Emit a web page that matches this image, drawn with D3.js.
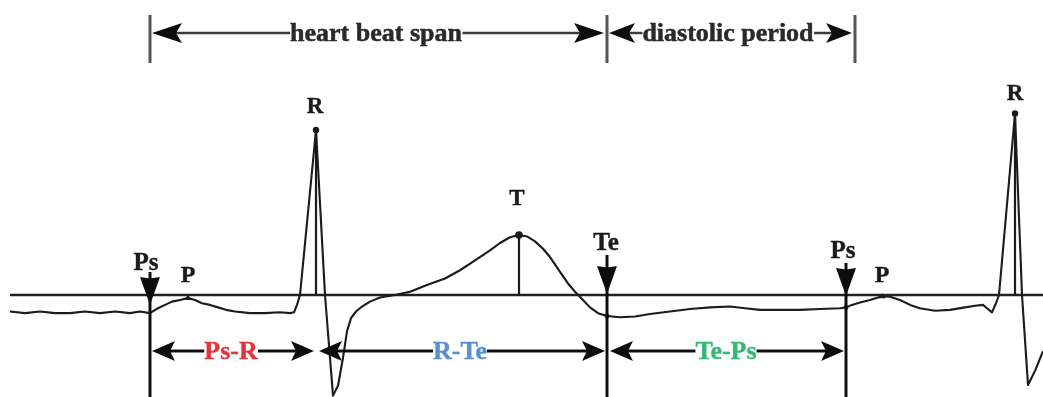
<!DOCTYPE html>
<html>
<head>
<meta charset="utf-8">
<script src="https://cdn.jsdelivr.net/npm/d3@7"></script>
<style>
  html, body { margin: 0; padding: 0; background: #fff; }
  svg { display: block; }
  text { font-family: "Liberation Serif", "Times New Roman", serif; font-weight: bold; }
</style>
</head>
<body>
<svg id="chart" width="1043" height="397"></svg>
<script>
// ---------------- DATA ----------------
// ECG trace: time (ms) and amplitude (mV, baseline = 0, first R peak = 1)
const waveT = [10, 25, 40, 55, 70, 85, 100, 115, 130, 140, 150,
  158, 165, 172, 180, 188, 195, 202, 210, 218, 226, 235, 250, 265, 280, 290, 294,
  297, 300, 316, 325, 333, 338, 343, 347, 351, 356, 362, 370, 380, 395, 410,
  427, 445, 460, 475, 490, 500, 510, 519, 527, 535, 543, 550, 560, 568, 575, 583, 590, 598, 607,
  620, 635, 650, 670, 690, 710, 730, 745, 760, 780, 800, 820, 840, 846,
  852, 860, 870, 882, 890, 900, 910, 920, 935, 950, 965, 975, 983, 987, 992, 996,
  999, 1015, 1022, 1028, 1035, 1043];
const waveV = [-0.10, -0.11, -0.10, -0.11, -0.11, -0.10, -0.11, -0.10, -0.11, -0.10, -0.11,
  -0.08, -0.06, -0.04, -0.03, -0.018, -0.03, -0.05, -0.06, -0.075, -0.09, -0.10, -0.11, -0.11, -0.105, -0.11, -0.105,
  -0.06, 0.0, 1.0, 0.0, -0.61, -0.55, -0.38, -0.22, -0.14, -0.10, -0.07, -0.04, -0.015, 0.0, 0.02,
  0.06, 0.10, 0.15, 0.21, 0.27, 0.315, 0.35, 0.364, 0.355, 0.325, 0.28, 0.23, 0.14, 0.07, 0.02, -0.03, -0.075, -0.11, -0.127,
  -0.135, -0.13, -0.115, -0.10, -0.085, -0.075, -0.07, -0.08, -0.09, -0.09, -0.09, -0.085, -0.08, -0.075,
  -0.06, -0.045, -0.03, -0.008, -0.01, -0.03, -0.06, -0.08, -0.095, -0.09, -0.075, -0.065, -0.06, -0.08, -0.105, -0.05,
  0.0, 1.10, 0.0, -0.545, -0.46, -0.34];

// Fiducial points
const eventNames = ["Ps", "P", "R", "T", "Te", "Ps", "P", "R"];
const eventT     = [150, 188, 316, 519, 607, 846, 882, 1015];

// Intervals shown under the trace
const intervalLabels = ["Ps-R", "R-Te", "Te-Ps"];
const intervalStart  = [150, 316, 607];
const intervalEnd    = [316, 607, 846];

// Spans shown on top
const spanLabels = ["heart beat span", "diastolic period"];
const spanStart  = [150, 607];
const spanEnd    = [607, 855];

// ---------------- DRAWING ----------------
const svg = d3.select("#chart");
const W = 1043, H = 397;

const x = d3.scaleLinear().domain([0, 1043]).range([0, W]);
const y = d3.scaleLinear().domain([0, 1]).range([295, 130]);

const defs = svg.append("defs");
defs.append("filter").attr("id", "soft")
  .append("feGaussianBlur").attr("stdDeviation", 0.6);

const g = svg.append("g").attr("filter", "url(#soft)");

const ink = "#1a1a1a";
const valueAt = t => waveV[waveT.indexOf(t)];

function arrowHead(tipX, tipY, dir, L, Hh, N) {
  return `M${tipX},${tipY} L${tipX - dir * L},${tipY - Hh} L${tipX - dir * (L - N)},${tipY} L${tipX - dir * L},${tipY + Hh} Z`;
}
function downHead(xp, tipY, L, Hw, N) {
  return `M${xp},${tipY} L${xp - Hw},${tipY - L} L${xp},${tipY - L + N} L${xp + Hw},${tipY - L} Z`;
}

// baseline (isoelectric line)
g.append("line")
  .attr("x1", x(10)).attr("x2", x(1043))
  .attr("y1", y(0)).attr("y2", y(0))
  .attr("stroke", "#222").attr("stroke-width", 2.6);

// vertical markers from peaks to baseline (R, T)
eventNames.forEach((n, i) => {
  if (n === "R" || n === "T") {
    g.append("line")
      .attr("x1", x(eventT[i])).attr("x2", x(eventT[i]))
      .attr("y1", y(valueAt(eventT[i]))).attr("y2", y(0))
      .attr("stroke", ink).attr("stroke-width", 2.2);
  }
});

// ECG trace
const pts = waveT.map((t, i) => [t, waveV[i]]);
g.append("path")
  .datum(pts)
  .attr("d", d3.line().x(d => x(d[0])).y(d => y(d[1])).curve(d3.curveLinear))
  .attr("fill", "none").attr("stroke", ink).attr("stroke-width", 2.1)
  .attr("stroke-linejoin", "round");

// dots on fiducial points
eventNames.forEach((n, i) => {
  const t = eventT[i], v = valueAt(t);
  if (n === "R" || n === "T") {
    g.append("circle").attr("cx", x(t)).attr("cy", y(v)).attr("r", n === "T" ? 3.8 : 3.2).attr("fill", ink);
  } else if (n === "P") {
    g.append("path").attr("d", `M${x(t) - 4},${y(v) + 2} L${x(t)},${y(v) - 3} L${x(t) + 4},${y(v) + 2} Z`).attr("fill", ink);
  } else if (n === "Te" || i === 5) {
    g.append("circle").attr("cx", x(t)).attr("cy", y(v)).attr("r", 2.4).attr("fill", ink);
  }
});

// down-pointing markers with vertical lines (Ps, Te, Ps)
const downLayout = { 0: { top: 272, tip: 305 }, 4: { top: 255, tip: 294 }, 5: { top: 263, tip: 296 } };
Object.keys(downLayout).forEach(k => {
  const i = +k, t = eventT[i], L = downLayout[k];
  g.append("line")
    .attr("x1", x(t)).attr("x2", x(t))
    .attr("y1", L.top).attr("y2", H)
    .attr("stroke", "#111").attr("stroke-width", 3);
  g.append("path").attr("d", downHead(x(t), L.tip, 28, 10, 1.5)).attr("fill", "#111");
});

// event labels
const labelLayout = [
  { dx: -4, y: 270, size: 25 },   // Ps
  { dx: 0,  y: 282, size: 24 },   // P
  { dx: -1, y: 113, size: 23 },   // R
  { dx: -2, y: 205, size: 23 },   // T
  { dx: -1, y: 250, size: 25 },   // Te
  { dx: -3, y: 258, size: 25 },   // Ps
  { dx: 0,  y: 282, size: 24 },   // P
  { dx: 0,  y: 100, size: 23 }    // R
];
eventNames.forEach((n, i) => {
  const L = labelLayout[i];
  g.append("text")
    .attr("x", x(eventT[i]) + L.dx).attr("y", L.y)
    .attr("text-anchor", "middle")
    .attr("font-size", L.size)
    .attr("fill", "#1a1a1a").attr("stroke", "#1a1a1a").attr("stroke-width", 0.4)
    .text(n);
});

// ---- top spans ----
const topY = 33;
[150, 607, 855].forEach(t => {
  g.append("line").attr("x1", x(t)).attr("x2", x(t)).attr("y1", 15).attr("y2", 63)
    .attr("stroke", "#555").attr("stroke-width", 3);
});
spanLabels.forEach((lab, i) => {
  const x0 = x(spanStart[i]) + 2, x1 = x(spanEnd[i]) - 3;
  g.append("line").attr("x1", x0 + 10).attr("x2", x1 - 10).attr("y1", topY).attr("y2", topY)
    .attr("stroke", "#3a3a3a").attr("stroke-width", 2.6);
  const L = i === 0 ? 30 : 26;
  g.append("path").attr("d", arrowHead(x0, topY, -1, L, 10, 6)).attr("fill", "#111");
  g.append("path").attr("d", arrowHead(x1, topY, 1, L, 10, 6)).attr("fill", "#111");
  const cx = i === 0 ? 376 : 728;
  const txt = g.append("text").attr("x", cx).attr("y", 41)
    .attr("text-anchor", "middle").attr("font-size", 26)
    .attr("fill", "#2a2a2a").attr("stroke", "#2a2a2a").attr("stroke-width", 0.5).text(lab);
  const bb = txt.node().getBBox();
  g.insert("rect", "text:last-child")
    .attr("x", bb.x).attr("y", topY - 4).attr("width", bb.width).attr("height", 8).attr("fill", "#fff");
});

// ---- bottom intervals ----
const intColors = ["#e3363e", "#5a8fd4", "#35b874"];
const intCenters = [231, 460, 726];
const botY = 351;
intervalLabels.forEach((lab, i) => {
  const x0 = x(intervalStart[i]) + (i === 0 ? 2 : 3), x1 = x(intervalEnd[i]) - 2;
  g.append("line").attr("x1", x0 + 8).attr("x2", x1 - 8).attr("y1", botY).attr("y2", botY)
    .attr("stroke", "#111").attr("stroke-width", 2.8);
  g.append("path").attr("d", arrowHead(x0, botY, -1, 23, 10, 5)).attr("fill", "#111");
  g.append("path").attr("d", arrowHead(x1, botY, 1, 23, 10, 5)).attr("fill", "#111");
  const txt = g.append("text").attr("x", intCenters[i]).attr("y", 359)
    .attr("text-anchor", "middle").attr("font-size", 26)
    .attr("fill", intColors[i]).attr("stroke", intColors[i]).attr("stroke-width", 0.4).text(lab);
  const bb = txt.node().getBBox();
  g.insert("rect", "text:last-child")
    .attr("x", bb.x).attr("y", botY - 4).attr("width", bb.width).attr("height", 8).attr("fill", "#fff");
});
</script>
</body>
</html>
